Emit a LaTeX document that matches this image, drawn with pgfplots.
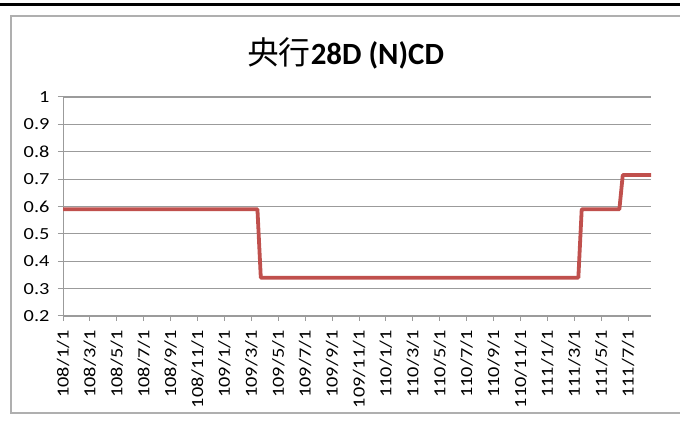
\documentclass[border=0pt]{standalone}
\usepackage{fontspec}
\setmainfont{Carlito}
\newfontfamily\tickfont{Carlito}[FakeStretch=1.2]
\newfontfamily\cjk{Noto Sans CJK TC}
\usepackage{pgfplots}
\pgfplotsset{compat=1.18}
\definecolor{linered}{RGB}{192,80,77}
\definecolor{gridgray}{RGB}{155,155,155}
\definecolor{framegray}{RGB}{175,175,175}
\begin{document}
\begin{tikzpicture}[x=1bp,y=1bp]
  \path[fill=white] (0,0) rectangle (680,445);
  % top rule and chart frame
  \draw[black, line width=2.4bp] (0,440.5) -- (680,440.5);
  \draw[framegray, line width=1.5bp] (680,429) -- (11,429) -- (11,32) -- (680,32);
  \node at (345.5,392) {{\fontsize{32}{36}\selectfont\cjk 央行}{\fontsize{31}{36}\selectfont\bfseries 28D (N)CD}};

  \begin{axis}[
      at={(63bp,129bp)}, anchor=south west,
      scale only axis, width=588bp, height=219bp,
      xmin=0, xmax=43.7,
      ymin=0.2, ymax=1,
      axis lines*=left,
      axis line style={gridgray, line width=1bp},
      ymajorgrids=true,
      grid style={gridgray, line width=1.1bp},
      tick align=outside,
      major tick length=5bp,
      tick style={gridgray, line width=1bp},
      xtick={0,2,...,42},
      xticklabels={108/1/1,108/3/1,108/5/1,108/7/1,108/9/1,108/11/1,
                   109/1/1,109/3/1,109/5/1,109/7/1,109/9/1,109/11/1,
                   110/1/1,110/3/1,110/5/1,110/7/1,110/9/1,110/11/1,
                   111/1/1,111/3/1,111/5/1,111/7/1},
      ytick={0.2,0.3,...,1.0},
      yticklabels={0.2,0.3,0.4,0.5,0.6,0.7,0.8,0.9,1},
      x tick label style={rotate=90, anchor=east,
                          font=\fontsize{17}{17}\selectfont\tickfont},
      y tick label style={font=\fontsize{17}{17}\selectfont\tickfont},
      xticklabel shift=6bp,
      yticklabel shift=5bp,
    ]
    \addplot[linered, line width=3.8bp, line join=round] coordinates {
      (0,0.59) (14.45,0.59) (14.7,0.34)
      (38.3,0.34) (38.55,0.59)
      (41.35,0.59) (41.6,0.715) (43.7,0.715)
    };
  \end{axis}
  \pgfresetboundingbox
  \path (0,0) rectangle (680,445);
\end{tikzpicture}
\end{document}
